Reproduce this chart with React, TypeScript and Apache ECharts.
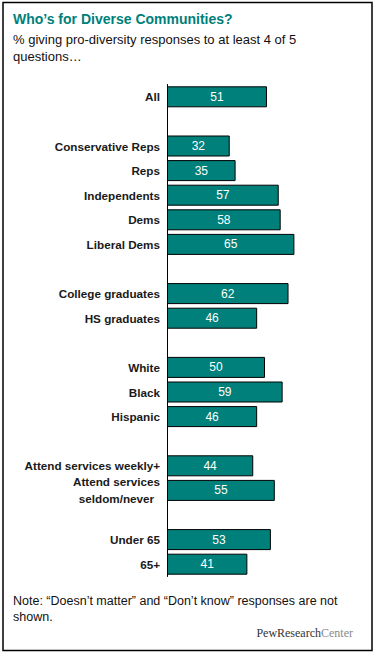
import React, { useEffect, useRef } from "react";
import * as echarts from "echarts";

const categories: string[] = [
  "All",
  "",
  "Conservative Reps",
  "Reps",
  "Independents",
  "Dems",
  "Liberal Dems",
  "",
  "College graduates",
  "HS graduates",
  "",
  "White",
  "Black",
  "Hispanic",
  "",
  "Attend services weekly+",
  "Attend services\nseldom/never",
  "",
  "Under 65",
  "65+",
];

const values: (number | null)[] = [
  51, null, 32, 35, 57, 58, 65, null, 62, 46, null, 50, 59, 46, null, 44, 55, null, 53, 41,
];

const titleText = "Who\u2019s for Diverse Communities?";
const subtitleText = "% giving pro-diversity responses to at least 4 of 5\nquestions\u2026";
const noteText =
  "Note: \u201cDoesn\u2019t matter\u201d and \u201cDon\u2019t know\u201d responses are not\nshown.";

const FONT = "'Liberation Sans', Arial, sans-serif";

export default function App() {
  const ref = useRef<HTMLDivElement>(null);
  useEffect(() => {
    if (!ref.current) return;
    const chart = echarts.init(ref.current, undefined, { renderer: "svg" });
    chart.setOption({
      animation: false,
      backgroundColor: "#ffffff",
      grid: { left: 167, top: 84.5, width: 196, height: 492, containLabel: false },
      xAxis: {
        type: "value",
        min: 0,
        max: 100,
        show: false,
      },
      yAxis: {
        type: "category",
        inverse: true,
        data: categories,
        axisLine: { show: true, lineStyle: { color: "#000", width: 1 } },
        axisTick: { show: false },
        splitLine: { show: false },
        axisLabel: {
          margin: 7,
          formatter: (v: string) =>
            v
              .split("\n")
              .map((s) => `{a|${s}}`)
              .join("\n"),
          rich: {
            a: {
              align: "center",
              fontFamily: FONT,
              fontWeight: "bold",
              fontSize: 11.7,
              color: "#1a1a1a",
              lineHeight: 17,
            },
          },
        },
      },
      series: [
        {
          type: "bar",
          data: values,
          barWidth: 21,
          itemStyle: { color: "#00807A", borderColor: "#000", borderWidth: 1 },
          label: {
            show: true,
            position: "inside",
            color: "#fff",
            fontFamily: FONT,
            fontSize: 12,
          },
        },
      ],
      graphic: [
        {
          type: "rect",
          shape: { x: 3, y: 2.5, width: 369, height: 648 },
          style: { fill: "none", stroke: "#000", lineWidth: 1.5 },
          silent: true,
        },
        {
          type: "text",
          x: 13,
          y: 12,
          style: {
            text: titleText,
            fill: "#007F7A",
            font: `bold 14px ${FONT}`,
            textVerticalAlign: "top",
          },
        },
        {
          type: "text",
          x: 13,
          y: 31,
          style: {
            text: subtitleText,
            fill: "#111",
            font: `13px ${FONT}`,
            lineHeight: 17,
            textVerticalAlign: "top",
          },
        },
        {
          type: "text",
          x: 13,
          y: 593,
          style: {
            text: noteText,
            fill: "#111",
            font: `12.5px ${FONT}`,
            lineHeight: 16,
            textVerticalAlign: "top",
          },
        },
        {
          type: "text",
          x: 353,
          y: 633,
          style: {
            text: "{p|PewResearch}{c|Center}",
            textAlign: "right",
            textVerticalAlign: "middle",
            rich: {
              p: { fontFamily: "'Liberation Serif', 'Times New Roman', serif", fontSize: 12, fill: "#333" },
              c: { fontFamily: "'Liberation Serif', 'Times New Roman', serif", fontSize: 12, fill: "#8a8a8a" },
            },
          },
        },
      ],
    });
    return () => chart.dispose();
  }, []);
  return (
    <div
      ref={ref}
      style={{ position: "absolute", left: 0, top: 0, width: 376, height: 654 }}
    />
  );
}
